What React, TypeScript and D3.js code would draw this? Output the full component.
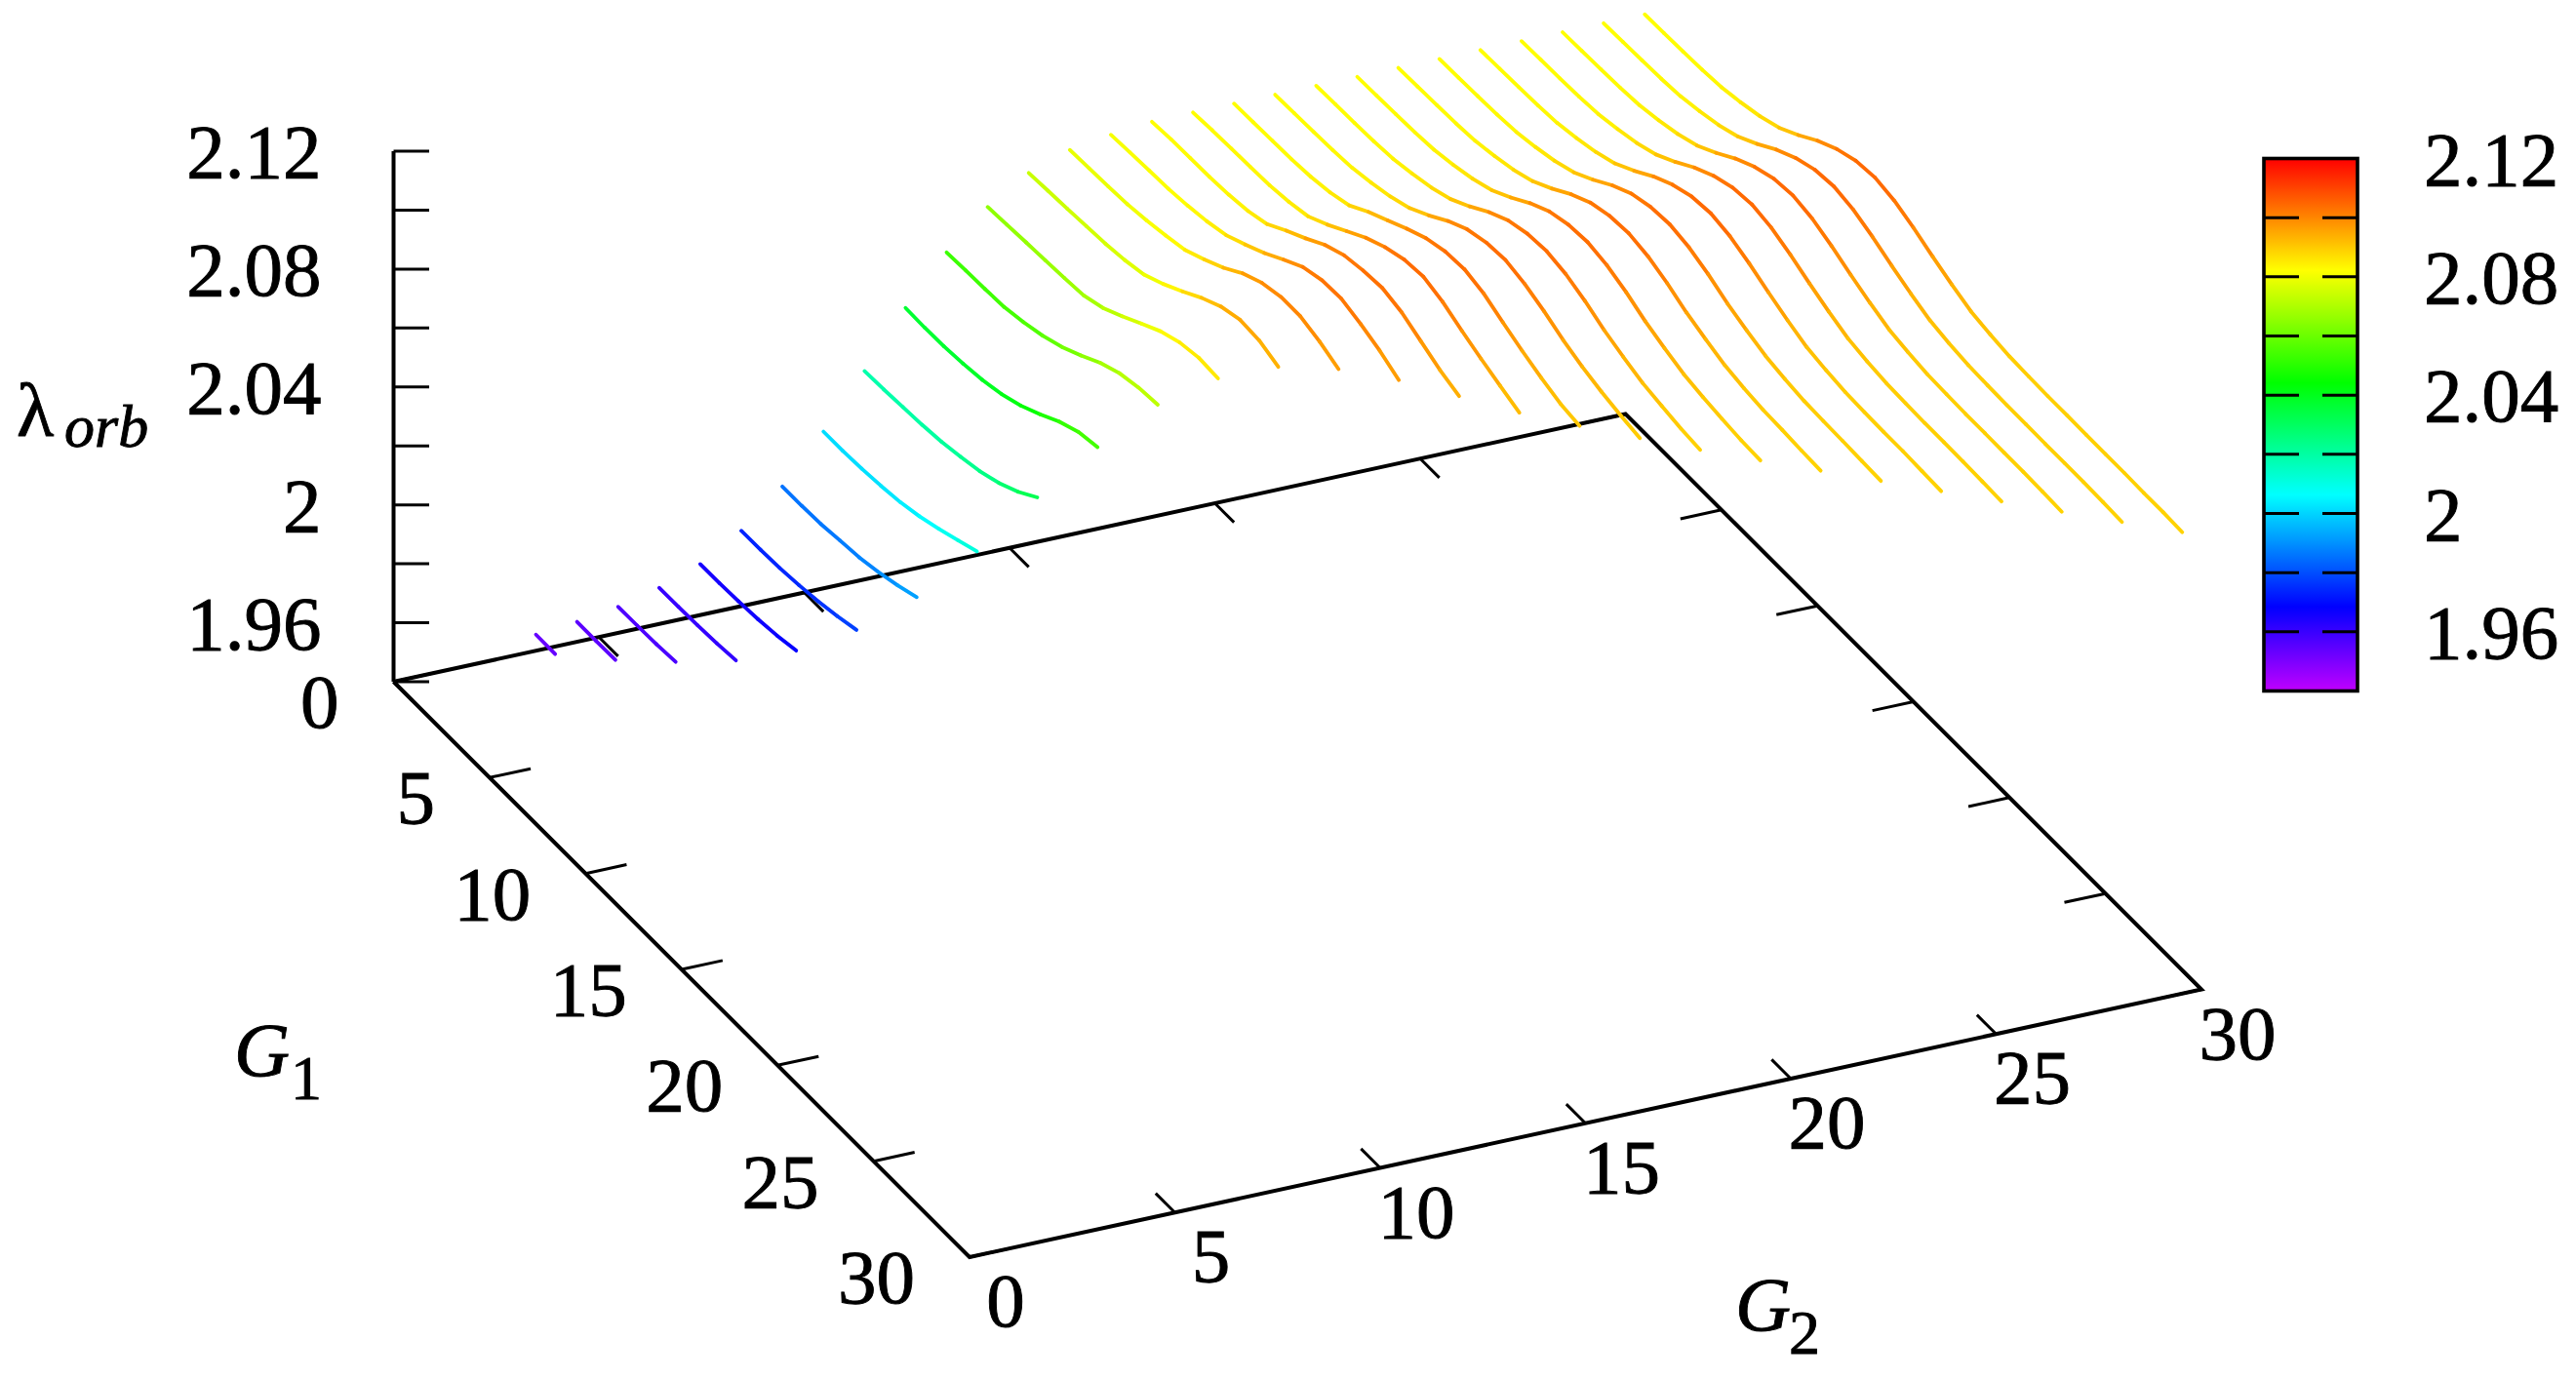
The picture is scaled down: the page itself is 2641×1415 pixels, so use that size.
import React from "react";
import * as d3 from "d3";

// Grid axes
const g1Ticks = [0, 5, 10, 15, 20, 25, 30];
const g2Ticks = [0, 5, 10, 15, 20, 25, 30];
const zTicks = [1.94, 1.96, 1.98, 2.0, 2.02, 2.04, 2.06, 2.08, 2.1, 2.12];
const zLabelled = [1.96, 2.0, 2.04, 2.08, 2.12];
const zTickLabels = ["1.96", "2", "2.04", "2.08", "2.12"];

// lambda_orb: one list per G2, indexed by G1 = 1, 2, ... G2-1
const lambdaG2_03 = [1.9534, 1.9533];
const lambdaG2_04 = [1.9547, 1.9547, 1.9548];
const lambdaG2_05 = [1.9568, 1.9569, 1.9571, 1.9576];
const lambdaG2_06 = [1.9602, 1.9603, 1.9605, 1.9609, 1.9616];
const lambdaG2_07 = [1.9652, 1.9653, 1.9656, 1.9661, 1.967, 1.9684];
const lambdaG2_08 = [1.9735, 1.9736, 1.9739, 1.9746, 1.9756, 1.9771, 1.9789];
const lambdaG2_09 = [1.9855, 1.9855, 1.9858, 1.9867, 1.9875, 1.989, 1.991, 1.9935];
const lambdaG2_10 = [2.0011, 2.0011, 2.0015, 2.0022, 2.0032, 2.0049, 2.0072, 2.0098, 2.0125];
const lambdaG2_11 = [2.0186, 2.0189, 2.0194, 2.0199, 2.0207, 2.0221, 2.0237, 2.0262, 2.0297, 2.0343];
const lambdaG2_12 = [2.037, 2.0368, 2.037, 2.0376, 2.0386, 2.0403, 2.0429, 2.0465, 2.0505, 2.0535, 2.0548];
const lambdaG2_13 = [2.0528, 2.0532, 2.0534, 2.0538, 2.0552, 2.0571, 2.0598, 2.0634, 2.0674, 2.0704, 2.072, 2.0727];
const lambdaG2_14 = [2.0652, 2.0657, 2.0662, 2.0666, 2.0671, 2.0677, 2.07, 2.0737, 2.0777, 2.0816, 2.0843, 2.0856, 2.0851];
const lambdaG2_15 = [2.0737, 2.0742, 2.0746, 2.0752, 2.0757, 2.0767, 2.0783, 2.0816, 2.0856, 2.0899, 2.0935, 2.0955, 2.095, 2.0925];
const lambdaG2_16 = [2.0785, 2.0788, 2.0791, 2.0796, 2.0806, 2.082, 2.0836, 2.0869, 2.0906, 2.0952, 2.0985, 2.1002, 2.1002, 2.0982, 2.0952];
const lambdaG2_17 = [2.0806, 2.0811, 2.0815, 2.0818, 2.0826, 2.0838, 2.0856, 2.0889, 2.0925, 2.0968, 2.1008, 2.1028, 2.1031, 2.1011, 2.0985, 2.095];
const lambdaG2_18 = [2.082, 2.0825, 2.0827, 2.0828, 2.0833, 2.0843, 2.0863, 2.0906, 2.0945, 2.0988, 2.1018, 2.1031, 2.1037, 2.102, 2.0987, 2.0954, 2.093];
const lambdaG2_19 = [2.0821, 2.0826, 2.0829, 2.0831, 2.0834, 2.0843, 2.0859, 2.0896, 2.0939, 2.0982, 2.1015, 2.1038, 2.1045, 2.1025, 2.0992, 2.0962, 2.0935, 2.0909];
const lambdaG2_20 = [2.0821, 2.0823, 2.0825, 2.0827, 2.0833, 2.0845, 2.0866, 2.0909, 2.0945, 2.0982, 2.1015, 2.1035, 2.104, 2.1023, 2.099, 2.0959, 2.0932, 2.0909, 2.0899];
const lambdaG2_21 = [2.0821, 2.0823, 2.0825, 2.0828, 2.0834, 2.0848, 2.0866, 2.0892, 2.0932, 2.0978, 2.1015, 2.1035, 2.1041, 2.1025, 2.0998, 2.0965, 2.0939, 2.0919, 2.0904, 2.0892];
const lambdaG2_22 = [2.0821, 2.0823, 2.0825, 2.0828, 2.0834, 2.0848, 2.0866, 2.0892, 2.0932, 2.0978, 2.1015, 2.1035, 2.1041, 2.1028, 2.1002, 2.0968, 2.0942, 2.0919, 2.0906, 2.0894, 2.0887];
const lambdaG2_23 = [2.0821, 2.0823, 2.0825, 2.0828, 2.0834, 2.0848, 2.0866, 2.0892, 2.0932, 2.0978, 2.1015, 2.1035, 2.1041, 2.1028, 2.1002, 2.0968, 2.0942, 2.0919, 2.0906, 2.0897, 2.0889, 2.0886];
const lambdaG2_24 = [2.0821, 2.0823, 2.0825, 2.0828, 2.0834, 2.0848, 2.0866, 2.0892, 2.0932, 2.0978, 2.1015, 2.1035, 2.1041, 2.1028, 2.1002, 2.0968, 2.0942, 2.0919, 2.0906, 2.0897, 2.0894, 2.0889, 2.0886];
const lambdaG2_25 = [2.0821, 2.0823, 2.0825, 2.0828, 2.0834, 2.0848, 2.0866, 2.0892, 2.0932, 2.0978, 2.1015, 2.1035, 2.1041, 2.1028, 2.1002, 2.0968, 2.0942, 2.0919, 2.0906, 2.0897, 2.0894, 2.0892, 2.0889, 2.0886];
const lambdaG2_26 = [2.0821, 2.0823, 2.0825, 2.0828, 2.0834, 2.0848, 2.0866, 2.0892, 2.0932, 2.0978, 2.1015, 2.104, 2.1048, 2.1035, 2.1008, 2.0975, 2.0945, 2.0919, 2.0906, 2.0897, 2.0894, 2.0892, 2.0892, 2.0889, 2.0886];
const lambdaG2_27 = [2.0821, 2.0823, 2.0825, 2.0828, 2.0834, 2.0848, 2.0866, 2.0892, 2.0932, 2.0978, 2.1015, 2.104, 2.1048, 2.1035, 2.1008, 2.0975, 2.0945, 2.0919, 2.0906, 2.0897, 2.0894, 2.0892, 2.0892, 2.0891, 2.0889, 2.0886];
const lambdaG2_28 = [2.0821, 2.0823, 2.0825, 2.0828, 2.0834, 2.0848, 2.0866, 2.0892, 2.0932, 2.0978, 2.1015, 2.104, 2.1048, 2.1035, 2.1008, 2.0975, 2.0945, 2.0919, 2.0906, 2.0897, 2.0894, 2.0892, 2.0892, 2.0891, 2.0891, 2.0889, 2.0886];
const lambdaG2_29 = [2.0821, 2.0823, 2.0825, 2.0828, 2.0834, 2.0848, 2.0866, 2.0892, 2.0932, 2.0978, 2.1015, 2.104, 2.1048, 2.1035, 2.1008, 2.0975, 2.0945, 2.0919, 2.0906, 2.0897, 2.0894, 2.0892, 2.0892, 2.0891, 2.0891, 2.0891, 2.0889, 2.0886];
const lambdaG2_30 = [2.0821, 2.0823, 2.0825, 2.0828, 2.0834, 2.0848, 2.0866, 2.0892, 2.0932, 2.0978, 2.1015, 2.104, 2.1048, 2.1035, 2.1008, 2.0975, 2.0945, 2.0919, 2.0906, 2.0897, 2.0894, 2.0892, 2.0892, 2.0891, 2.0891, 2.0891, 2.0889, 2.0889, 2.0886];

const g2Lines = [
  lambdaG2_03, lambdaG2_04, lambdaG2_05, lambdaG2_06, lambdaG2_07, lambdaG2_08, lambdaG2_09,
  lambdaG2_10, lambdaG2_11, lambdaG2_12, lambdaG2_13, lambdaG2_14, lambdaG2_15, lambdaG2_16,
  lambdaG2_17, lambdaG2_18, lambdaG2_19, lambdaG2_20, lambdaG2_21, lambdaG2_22, lambdaG2_23,
  lambdaG2_24, lambdaG2_25, lambdaG2_26, lambdaG2_27, lambdaG2_28, lambdaG2_29, lambdaG2_30,
];
const firstG2 = 3;

// Oblique projection of the box, built from linear scales
const ORIGIN = { x: 403.5, y: 699 };
const g1X = d3.scaleLinear().domain([0, 30]).range([0, 590.5]);
const g1Y = d3.scaleLinear().domain([0, 30]).range([0, 590]);
const g2X = d3.scaleLinear().domain([0, 30]).range([0, 1263]);
const g2Y = d3.scaleLinear().domain([0, 30]).range([0, -274.5]);
const zLift = d3.scaleLinear().domain([1.94, 2.12]).range([0, -544]);
const project = (g1: number, g2: number, z = 1.94): [number, number] => [
  ORIGIN.x + g1X(g1) + g2X(g2),
  ORIGIN.y + g1Y(g1) + g2Y(g2) + zLift(z),
];

const hue = d3.scaleLinear().domain([1.94, 2.12]).range([285, 0]);
const colorOf = (z: number) => d3.hsl(hue(z), 1, 0.5).formatHex();

const barY = d3.scaleLinear().domain([1.94, 2.12]).range([708.5, 162.5]);
const BAR = { x0: 2321, x1: 2417 };
const gradientStops = d3.range(0, 1.0001, 1 / 57);

const FONT = "'Liberation Serif', 'Times New Roman', serif";
const lineGen = d3.line<[number, number]>();
const AXIS = 4;
const TICK = 3;

export default function App() {
  const corners = [project(0, 0), project(30, 0), project(30, 30), project(0, 30), project(0, 0)];
  const segments: { d: string; c: string; k: string }[] = [];
  g2Lines.forEach((vals, li) => {
    const g2 = firstG2 + li;
    for (let i = 0; i < vals.length - 1; i++) {
      const a = project(i + 1, g2, vals[i]);
      const b = project(i + 2, g2, vals[i + 1]);
      segments.push({ d: lineGen([a, b]) as string, c: colorOf((vals[i] + vals[i + 1]) / 2), k: `${g2}-${i}` });
    }
  });
  const tickPath = (p: [number, number], q: [number, number]) => lineGen([p, q]) as string;

  return (
    <svg
      width={2641}
      height={1415}
      viewBox="0 0 2641 1415"
      style={{ position: "absolute", left: 0, top: 0, display: "block", background: "#fff" }}
      fontFamily={FONT}
    >
      <defs>
        <linearGradient id="bar" x1="0" y1="1" x2="0" y2="0">
          {gradientStops.map((t) => (
            <stop key={t} offset={t} stopColor={colorOf(1.94 + 0.18 * t)} />
          ))}
        </linearGradient>
      </defs>

      {/* base box */}
      <path d={lineGen(corners as [number, number][]) as string} fill="none" stroke="#000" strokeWidth={AXIS} strokeLinejoin="miter" />

      {/* G1 ticks, front edge and mirror */}
      {g1Ticks.map((t) => (
        <g key={`g1-${t}`} stroke="#000" strokeWidth={TICK}>
          <path d={tickPath(project(t, 0), project(t, 1))} />
          <path d={tickPath(project(t, 30), project(t, 29))} />
        </g>
      ))}
      {/* G2 ticks, front edge and mirror */}
      {g2Ticks.map((t) => (
        <g key={`g2-${t}`} stroke="#000" strokeWidth={TICK}>
          <path d={tickPath(project(30, t), project(29, t))} />
          <path d={tickPath(project(0, t), project(1, t))} />
        </g>
      ))}

      {/* vertical axis */}
      <path d={tickPath(project(0, 0, 1.94), project(0, 0, 2.12))} stroke="#000" strokeWidth={AXIS} />
      {zTicks.map((z) => {
        const [x, y] = project(0, 0, z);
        return <path key={z} d={tickPath([x, y], [x + 36.5, y])} stroke="#000" strokeWidth={TICK} />;
      })}

      {/* curves */}
      <g fill="none" strokeWidth={3.8} strokeLinecap="round">
        {segments.map((s) => (
          <path key={s.k} d={s.d} stroke={s.c} />
        ))}
      </g>

      {/* labels */}
      <g fontSize={79} fill="#000" stroke="#000" strokeWidth={0.9}>
        {zLabelled.map((z, i) => {
          const [, y] = project(0, 0, z);
          return (
            <text key={z} x={329.5} y={y + 27} textAnchor="end">
              {zTickLabels[i]}
            </text>
          );
        })}
        {g1Ticks.map((t) => {
          const [x, y] = project(t, 30 * 0);
          return (
            <text key={t} x={x - 56} y={y + 47} textAnchor="end">
              {t}
            </text>
          );
        })}
        {g2Ticks.map((t) => {
          const [x, y] = project(30, t);
          return (
            <text key={t} x={x + 37} y={y + 71} textAnchor="middle">
              {t}
            </text>
          );
        })}

        <text x={17} y={447}>λ</text>
        <text x={66} y={458} fontSize={62} fontStyle="italic">orb</text>
        <text x={240} y={1103} fontStyle="italic">G</text>
        <text x={298} y={1127} fontSize={64}>1</text>
        <text x={1779} y={1364} fontStyle="italic">G</text>
        <text x={1834} y={1388} fontSize={64}>2</text>

        {zLabelled.map((z, i) => (
          <text key={z} x={2485} y={barY(z) + 27}>
            {zTickLabels[i]}
          </text>
        ))}
      </g>

      {/* colour box */}
      <rect x={BAR.x0} y={barY(2.12)} width={BAR.x1 - BAR.x0} height={barY(1.94) - barY(2.12)} fill="url(#bar)" />
      {zTicks.slice(1, -1).map((z) => (
        <g key={z} stroke="#000" strokeWidth={3}>
          <path d={tickPath([BAR.x0, barY(z)], [BAR.x0 + 36, barY(z)])} />
          <path d={tickPath([BAR.x1, barY(z)], [BAR.x1 - 36, barY(z)])} />
        </g>
      ))}
      <rect x={BAR.x0} y={barY(2.12)} width={BAR.x1 - BAR.x0} height={barY(1.94) - barY(2.12)} fill="none" stroke="#000" strokeWidth={3.6} />
    </svg>
  );
}
